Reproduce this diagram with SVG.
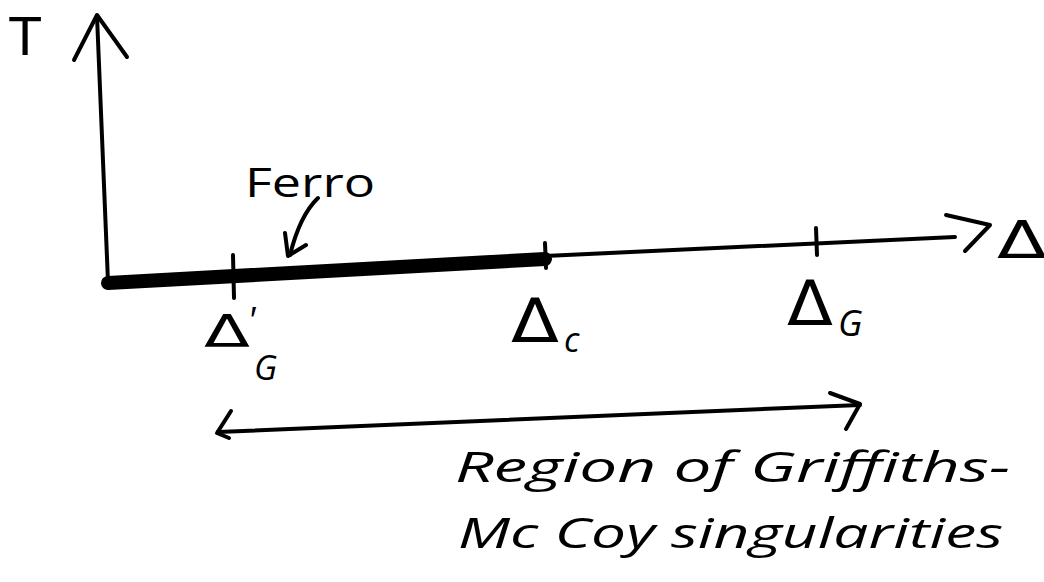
<svg xmlns="http://www.w3.org/2000/svg" width="1044" height="582" viewBox="0 0 1044 582">
<style>
.ln{fill:none;stroke:#000;stroke-width:4;stroke-linecap:round;stroke-linejoin:round}
.t{font-family:"Liberation Sans",Arial,sans-serif;fill:#000}
.d{font-family:"DejaVu Sans","Liberation Sans",sans-serif;fill:#000}
.h{font-family:"Open Sans","Liberation Sans",sans-serif;font-style:italic;fill:#000}
.u{font-family:"Open Sans","Liberation Sans",sans-serif;fill:#000}
</style>
<rect width="1044" height="582" fill="#fff"/>
<g id="connectors">
<path class="ln" d="M97,16 L108,282"/>
<path class="ln" d="M74,60 L97,15 L127,57"/>
<path class="ln" d="M108,281 L545,256 L955,237"/>
<path class="ln" d="M946,215 L990,225 L965,251"/>
<path d="M108,283 L545,259" stroke="#000" stroke-width="14" fill="none" stroke-linecap="round"/>
<path class="ln" d="M233,255 L234,298"/>
<path class="ln" d="M545,243 L546,268"/>
<path class="ln" d="M816,228 L817,255"/>
<path class="ln" d="M318,198 Q300,215 290,255"/>
<path class="ln" d="M285,233 L288,256 L306,245"/>
<path class="ln" d="M218,432 L860,405"/>
<path class="ln" d="M231,411 L217,433 L229,438"/>
<path class="ln" d="M830,393 L860,404 L846,429"/>
</g>
<g id="label-T"><text class="t" x="8" y="55" font-size="56">T</text></g>
<g id="label-Delta"><text class="d" x="997" y="258" font-size="52" textLength="50" lengthAdjust="spacingAndGlyphs">Δ</text></g>
<g id="label-ferro"><text class="u" x="245" y="197" font-size="40" textLength="130" lengthAdjust="spacingAndGlyphs">Ferro</text></g>
<g id="label-DeltaGprime"><text class="d" x="204" y="347" font-size="44" textLength="46" lengthAdjust="spacingAndGlyphs">Δ</text><text class="t" x="250" y="333" font-size="36">′</text><text class="h" x="254" y="380" font-size="34">G</text></g>
<g id="label-Deltac"><text class="d" x="511" y="342" font-size="60" textLength="48" lengthAdjust="spacingAndGlyphs">Δ</text><text class="h" x="564" y="352" font-size="34">c</text></g>
<g id="label-DeltaG"><text class="d" x="787" y="325" font-size="62" textLength="46" lengthAdjust="spacingAndGlyphs">Δ</text><text class="h" x="838" y="336" font-size="36">G</text></g>
<g id="label-region"><text class="h" x="455" y="482" font-size="42" textLength="555" lengthAdjust="spacingAndGlyphs">Region of Griffiths-</text><text class="h" x="458" y="548" font-size="42" textLength="545" lengthAdjust="spacingAndGlyphs">Mc Coy singularities</text></g>
</svg>
